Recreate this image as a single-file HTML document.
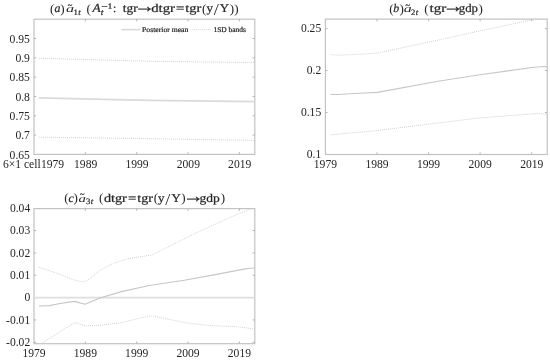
<!DOCTYPE html>
<html lang="en"><head><meta charset="utf-8"><title>Figure</title>
<style>html,body{margin:0;padding:0;background:#fff}body{width:550px;height:361px;overflow:hidden}svg{display:block}text{font-family:"Liberation Serif","DejaVu Serif",serif;fill:#262626}.t{stroke:#262626;stroke-width:.22px;text-rendering:geometricPrecision}.g{text-rendering:geometricPrecision}.lg{stroke:#262626;stroke-width:.22px;text-rendering:geometricPrecision}</style>
</head><body>
<svg width="550" height="361" viewBox="0 0 550 361">
<rect width="550" height="361" fill="#fff"/>
<defs>
<clipPath id="c1"><rect x="34.0" y="19.2" width="220.80" height="135.20"/></clipPath>
<clipPath id="c2"><rect x="325.4" y="19.1" width="221.80" height="135.40"/></clipPath>
<clipPath id="c3"><rect x="34.0" y="208.6" width="220.80" height="135.10"/></clipPath>
</defs>
<rect x="34.00" y="19.20" width="220.80" height="135.20" fill="none" stroke="#c2c2c2" stroke-width="1.2"/>
<path d="M85.35 154.40v-2.2M85.35 19.20v2.2M136.70 154.40v-2.2M136.70 19.20v2.2M188.05 154.40v-2.2M188.05 19.20v2.2M239.40 154.40v-2.2M239.40 19.20v2.2M34.00 135.09h2.2M254.80 135.09h-2.2M34.00 115.77h2.2M254.80 115.77h-2.2M34.00 96.46h2.2M254.80 96.46h-2.2M34.00 77.14h2.2M254.80 77.14h-2.2M34.00 57.83h2.2M254.80 57.83h-2.2M34.00 38.51h2.2M254.80 38.51h-2.2" stroke="#b4b4b4" stroke-width="1" fill="none"/>
<polyline points="38.9,58.2 150.0,61.3 254.7,62.6" fill="none" stroke="#d2d2d2" stroke-width="1" stroke-dasharray="1 1" stroke-linejoin="round"/>
<polyline points="38.9,97.8 150.0,100.3 254.7,101.6" fill="none" stroke="#dadada" stroke-width="1.8" stroke-linejoin="round"/>
<polyline points="38.9,137.2 140.0,138.5 254.7,140.4" fill="none" stroke="#d2d2d2" stroke-width="1" stroke-dasharray="1 1" stroke-linejoin="round"/>
<text x="29.90" y="42.71" font-size="11.6" text-anchor="end">0.95</text>
<text x="29.90" y="62.03" font-size="11.6" text-anchor="end">0.9</text>
<text x="29.90" y="81.34" font-size="11.6" text-anchor="end">0.85</text>
<text x="29.90" y="100.66" font-size="11.6" text-anchor="end">0.8</text>
<text x="29.90" y="119.97" font-size="11.6" text-anchor="end">0.75</text>
<text x="29.90" y="139.29" font-size="11.6" text-anchor="end">0.7</text>
<text x="29.90" y="158.60" font-size="11.6" text-anchor="end">0.65</text>
<text x="40.70" y="167.90" font-size="11.6" text-anchor="end">6×1 cell</text>
<text x="40.90" y="167.90" font-size="11.6" text-anchor="start">1979</text>
<text x="85.65" y="167.90" font-size="11.6" text-anchor="middle">1989</text>
<text x="137.00" y="167.90" font-size="11.6" text-anchor="middle">1999</text>
<text x="188.35" y="167.90" font-size="11.6" text-anchor="middle">2009</text>
<text x="239.70" y="167.90" font-size="11.6" text-anchor="middle">2019</text>
<path d="M121.5 29.6H140.5" stroke="#dadada" stroke-width="1.6"/>
<path d="M191.8 29.6H210.4" stroke="#d2d2d2" stroke-width="1" stroke-dasharray="1 1"/>
<text x="142.00" y="32.00" font-size="7.3" textLength="46.40" lengthAdjust="spacingAndGlyphs" class="lg">Posterior mean</text>
<text x="213.40" y="32.00" font-size="7.3" textLength="32.60" lengthAdjust="spacingAndGlyphs" class="lg">1SD bands</text>
<text transform="translate(52.20 13.00) scale(1.0 1)" font-size="13.1" text-anchor="middle">(</text>
<text transform="translate(57.40 12.45) scale(1.0 1)" font-size="11.9" text-anchor="middle" font-style="italic" class="t">a</text>
<text transform="translate(62.50 13.00) scale(1.0 1)" font-size="13.1" text-anchor="middle">)</text>
<text transform="translate(70.00 12.45) scale(1.5 1)" font-size="10.8" text-anchor="middle" font-style="italic" class="g">a</text>
<text x="70.10" y="7.90" font-size="8.5" text-anchor="middle" class="t">~</text>
<text transform="translate(75.65 14.80) scale(1.05 1)" font-size="8.3" text-anchor="middle" class="t">1</text>
<text transform="translate(79.40 14.80) scale(1.05 1)" font-size="8.3" text-anchor="middle" font-style="italic" class="t">t</text>
<text transform="translate(88.75 13.00) scale(1.0 1)" font-size="13.1" text-anchor="middle">(</text>
<text transform="translate(96.65 12.45) scale(1.1 1)" font-size="12.2" text-anchor="middle" font-style="italic" class="t">A</text>
<text transform="translate(102.05 15.35) scale(1.1 1)" font-size="8.6" text-anchor="middle" font-style="italic" class="t">t</text>
<text transform="translate(104.50 9.45) scale(1.55 1)" font-size="7.6" text-anchor="middle" class="t">−</text>
<text transform="translate(109.95 9.35) scale(1.15 1)" font-size="8.5" text-anchor="middle" class="t">1</text>
<text transform="translate(114.70 12.45) scale(1.0 1)" font-size="11.9" text-anchor="middle" class="t">:</text>
<text x="122.80" y="12.45" font-size="11.9" textLength="14.80" lengthAdjust="spacingAndGlyphs" class="t">tgr</text>
<text transform="translate(138.20 12.25) scale(1.17 1)" x="-3.67" font-size="18" class="t">→</text>
<text x="151.20" y="12.45" font-size="11.9" textLength="23.80" lengthAdjust="spacingAndGlyphs" class="t">dtgr</text>
<text transform="translate(180.15 12.45) scale(1.25 1)" font-size="11.9" text-anchor="middle" class="t">=</text>
<text x="185.30" y="12.45" font-size="11.9" textLength="16.00" lengthAdjust="spacingAndGlyphs" class="t">tgr</text>
<text transform="translate(204.20 13.00) scale(1.0 1)" font-size="13.1" text-anchor="middle">(</text>
<text transform="translate(209.65 12.45) scale(1.08 1)" font-size="11.9" text-anchor="middle" class="t">y</text>
<text transform="translate(216.25 15.15) scale(1.1 1)" font-size="16.5" text-anchor="middle">/</text>
<text transform="translate(224.50 12.45) scale(1.08 1)" font-size="11.9" text-anchor="middle" class="t">Y</text>
<text transform="translate(231.95 13.00) scale(1.0 1)" font-size="13.1" text-anchor="middle">)</text>
<text transform="translate(236.35 13.00) scale(1.0 1)" font-size="13.1" text-anchor="middle">)</text>
<rect x="325.40" y="19.10" width="221.80" height="135.40" fill="none" stroke="#c2c2c2" stroke-width="1.2"/>
<path d="M376.98 154.50v-2.2M376.98 19.10v2.2M428.56 154.50v-2.2M428.56 19.10v2.2M480.14 154.50v-2.2M480.14 19.10v2.2M531.73 154.50v-2.2M531.73 19.10v2.2M325.40 112.54h2.2M547.20 112.54h-2.2M325.40 70.57h2.2M547.20 70.57h-2.2M325.40 28.61h2.2M547.20 28.61h-2.2" stroke="#b4b4b4" stroke-width="1" fill="none"/>
<polyline points="330.4,54.4 333.0,54.9 337.7,55.2 350.0,54.7 365.0,53.9 377.3,53.1 439.5,39.8 479.8,30.9 531.8,20.0 536.0,19.6 545.5,19.5" fill="none" stroke="#d2d2d2" stroke-width="1" stroke-dasharray="1 1" clip-path="url(#c2)" stroke-linejoin="round"/>
<polyline points="330.4,94.5 338.0,94.5 350.0,93.8 365.0,93.0 377.3,92.4 439.5,81.0 479.8,74.8 531.8,67.5 540.0,66.7 547.2,66.6" fill="none" stroke="#c6c6c6" stroke-width="1.15" stroke-linejoin="round"/>
<polyline points="330.4,134.9 377.3,130.5 439.5,122.8 479.8,117.9 531.8,113.9 537.0,113.5 547.2,114.4" fill="none" stroke="#d2d2d2" stroke-width="1" stroke-dasharray="1 1" stroke-linejoin="round"/>
<text x="321.20" y="32.41" font-size="11.6" text-anchor="end">0.25</text>
<text x="321.20" y="74.37" font-size="11.6" text-anchor="end">0.2</text>
<text x="321.20" y="116.34" font-size="11.6" text-anchor="end">0.15</text>
<text x="321.20" y="158.30" font-size="11.6" text-anchor="end">0.1</text>
<text x="325.40" y="167.80" font-size="11.6" text-anchor="middle">1979</text>
<text x="376.98" y="167.80" font-size="11.6" text-anchor="middle">1989</text>
<text x="428.56" y="167.80" font-size="11.6" text-anchor="middle">1999</text>
<text x="480.14" y="167.80" font-size="11.6" text-anchor="middle">2009</text>
<text x="531.73" y="167.80" font-size="11.6" text-anchor="middle">2019</text>
<text transform="translate(391.35 13.00) scale(1.0 1)" font-size="13.1" text-anchor="middle">(</text>
<text transform="translate(396.30 12.45) scale(1.0 1)" font-size="11.9" text-anchor="middle" font-style="italic" class="t">b</text>
<text transform="translate(401.65 13.00) scale(1.0 1)" font-size="13.1" text-anchor="middle">)</text>
<text transform="translate(407.75 12.45) scale(1.479 1)" font-size="10.8" text-anchor="middle" font-style="italic" class="g">a</text>
<text x="407.85" y="7.90" font-size="8.5" text-anchor="middle" class="t">~</text>
<text transform="translate(413.30 14.80) scale(1.05 1)" font-size="8.3" text-anchor="middle" class="t">2</text>
<text transform="translate(417.05 14.80) scale(1.05 1)" font-size="8.3" text-anchor="middle" font-style="italic" class="t">t</text>
<text transform="translate(426.45 13.00) scale(1.0 1)" font-size="13.1" text-anchor="middle">(</text>
<text x="429.60" y="12.45" font-size="11.9" textLength="16.60" lengthAdjust="spacingAndGlyphs" class="t">tgr</text>
<text transform="translate(446.80 12.25) scale(1.17 1)" x="-3.67" font-size="18" class="t">→</text>
<text x="458.80" y="12.45" font-size="11.9" textLength="19.20" lengthAdjust="spacingAndGlyphs" class="t">gdp</text>
<text transform="translate(480.75 13.00) scale(1.0 1)" font-size="13.1" text-anchor="middle">)</text>
<rect x="34.00" y="208.60" width="220.80" height="135.10" fill="none" stroke="#c2c2c2" stroke-width="1.2"/>
<path d="M85.35 343.70v-2.2M85.35 208.60v2.2M136.70 343.70v-2.2M136.70 208.60v2.2M188.05 343.70v-2.2M188.05 208.60v2.2M239.40 343.70v-2.2M239.40 208.60v2.2M34.00 342.30h2.2M254.80 342.30h-2.2M34.00 319.95h2.2M254.80 319.95h-2.2M34.00 297.60h2.2M254.80 297.60h-2.2M34.00 275.25h2.2M254.80 275.25h-2.2M34.00 252.90h2.2M254.80 252.90h-2.2M34.00 230.55h2.2M254.80 230.55h-2.2" stroke="#b4b4b4" stroke-width="1" fill="none"/>
<path d="M34.0 297.6H254.8" stroke="#dedede" stroke-width="1.7"/>
<polyline points="38.9,267.2 57.7,273.6 74.3,279.9 80.0,281.4 84.0,281.9 89.6,279.1 99.3,270.8 113.1,263.3 127.0,258.9 140.0,256.8 152.2,254.9 193.1,234.3 228.6,218.2 250.7,208.9 254.7,207.0" fill="none" stroke="#d2d2d2" stroke-width="1" stroke-dasharray="1 1" clip-path="url(#c3)" stroke-linejoin="round"/>
<polyline points="38.9,306.0 49.4,305.6 60.0,303.5 74.6,301.4 85.0,304.2 100.7,297.7 121.5,291.6 149.2,285.5 184.3,280.2 215.3,274.6 244.0,269.1 250.0,268.3 254.7,268.0" fill="none" stroke="#c6c6c6" stroke-width="1.15" stroke-linejoin="round"/>
<polyline points="38.9,345.0 64.9,328.6 74.9,322.6 85.4,325.7 99.3,325.4 121.5,322.6 140.9,317.9 152.2,315.8 184.3,322.5 206.4,325.3 239.6,326.9 254.7,329.1" fill="none" stroke="#d2d2d2" stroke-width="1" stroke-dasharray="1 1" clip-path="url(#c3)" stroke-linejoin="round"/>
<text x="30.20" y="212.00" font-size="11.6" text-anchor="end">0.04</text>
<text x="30.20" y="234.35" font-size="11.6" text-anchor="end">0.03</text>
<text x="30.20" y="256.70" font-size="11.6" text-anchor="end">0.02</text>
<text x="30.20" y="279.05" font-size="11.6" text-anchor="end">0.01</text>
<text x="30.20" y="301.40" font-size="11.6" text-anchor="end">0</text>
<text x="30.20" y="323.75" font-size="11.6" text-anchor="end">-0.01</text>
<text x="30.20" y="346.10" font-size="11.6" text-anchor="end">-0.02</text>
<text x="34.00" y="356.80" font-size="11.6" text-anchor="middle">1979</text>
<text x="85.35" y="356.80" font-size="11.6" text-anchor="middle">1989</text>
<text x="136.70" y="356.80" font-size="11.6" text-anchor="middle">1999</text>
<text x="188.05" y="356.80" font-size="11.6" text-anchor="middle">2009</text>
<text x="239.40" y="356.80" font-size="11.6" text-anchor="middle">2019</text>
<text transform="translate(66.45 202.45) scale(1.0 1)" font-size="13.1" text-anchor="middle">(</text>
<text transform="translate(71.10 201.90) scale(1.0 1)" font-size="11.9" text-anchor="middle" font-style="italic" class="t">c</text>
<text transform="translate(75.75 202.45) scale(1.0 1)" font-size="13.1" text-anchor="middle">)</text>
<text transform="translate(82.30 201.90) scale(1.372 1)" font-size="10.8" text-anchor="middle" font-style="italic" class="g">a</text>
<text x="82.40" y="197.35" font-size="8.5" text-anchor="middle" class="t">~</text>
<text transform="translate(88.10 204.20) scale(1.05 1)" font-size="8.3" text-anchor="middle" class="t">3</text>
<text transform="translate(91.95 204.20) scale(1.05 1)" font-size="8.3" text-anchor="middle" font-style="italic" class="t">t</text>
<text transform="translate(101.25 202.45) scale(1.0 1)" font-size="13.1" text-anchor="middle">(</text>
<text x="103.90" y="201.90" font-size="11.9" textLength="22.90" lengthAdjust="spacingAndGlyphs" class="t">dtgr</text>
<text transform="translate(132.10 201.90) scale(1.25 1)" font-size="11.9" text-anchor="middle" class="t">=</text>
<text x="137.30" y="201.90" font-size="11.9" textLength="15.60" lengthAdjust="spacingAndGlyphs" class="t">tgr</text>
<text transform="translate(155.95 202.45) scale(1.0 1)" font-size="13.1" text-anchor="middle">(</text>
<text transform="translate(161.25 201.90) scale(1.08 1)" font-size="11.9" text-anchor="middle" class="t">y</text>
<text transform="translate(167.85 204.60) scale(1.1 1)" font-size="16.5" text-anchor="middle">/</text>
<text transform="translate(176.20 201.90) scale(1.08 1)" font-size="11.9" text-anchor="middle" class="t">Y</text>
<text transform="translate(183.55 202.45) scale(1.0 1)" font-size="13.1" text-anchor="middle">)</text>
<text transform="translate(187.10 201.70) scale(1.17 1)" x="-3.67" font-size="18" class="t">→</text>
<text x="199.50" y="201.90" font-size="11.9" textLength="20.30" lengthAdjust="spacingAndGlyphs" class="t">gdp</text>
<text transform="translate(222.85 202.45) scale(1.0 1)" font-size="13.1" text-anchor="middle">)</text>
</svg></body></html>
